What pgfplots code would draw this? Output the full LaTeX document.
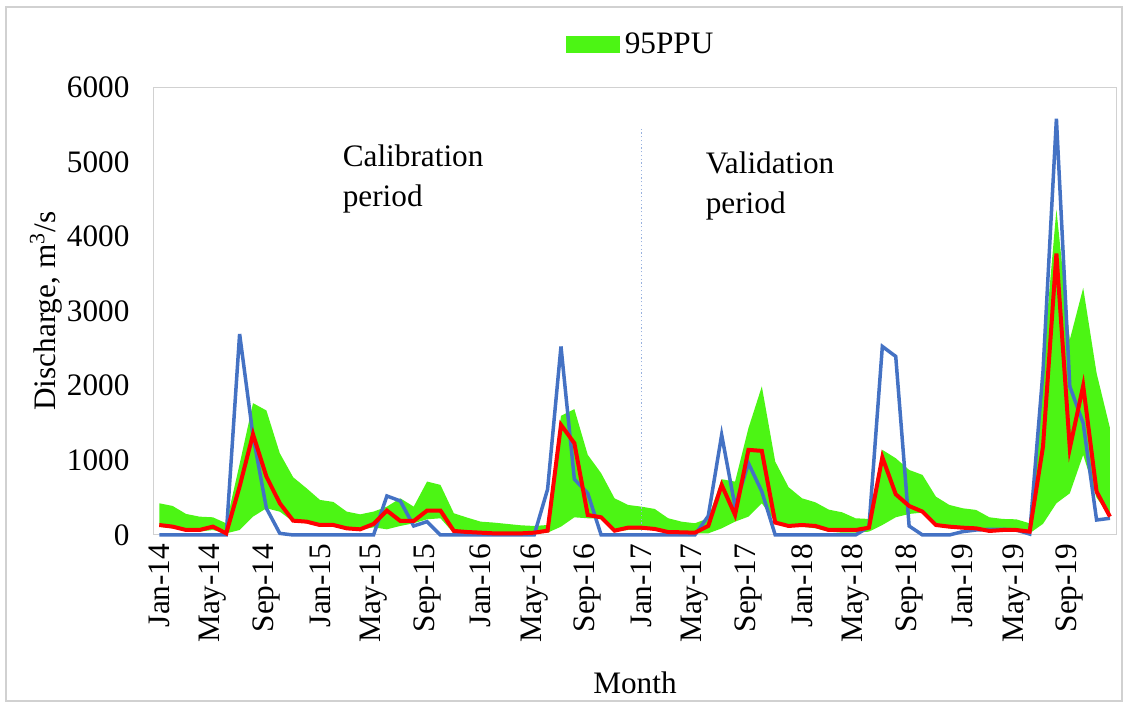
\documentclass[border=0pt]{standalone}
\usepackage{pgfplots}
\pgfplotsset{compat=1.18}
\usepackage{pgfplotstable}
\usepgfplotslibrary{fillbetween}
\usepackage{fontspec}
\setmainfont{Liberation Serif}

\definecolor{ppu}{HTML}{4CF514}
\definecolor{obs}{HTML}{4472C4}
\definecolor{sim}{HTML}{FF0000}

% month index (0 = Jan-14), observed, simulated, 95PPU upper, 95PPU lower
\pgfplotstableread{
m obs sim up low
0 0 134 425 112
1 0 112 389 89
2 0 67 282 67
3 0 67 246 45
4 0 112 237 67
5 0 22 157 22
6 2694 650 950 67
7 1333 1350 1767 246
8 358 783 1669 358
9 22 425 1096 313
10 0 192 774 179
11 0 179 626 157
12 0 134 470 112
13 0 134 443 112
14 0 89 313 76
15 0 76 277 67
16 0 148 313 103
17 523 327 380 76
18 456 188 492 121
19 121 188 380 157
20 179 327 716 210
21 0 327 671 224
22 0 54 291 22
23 0 40 233 20
24 0 31 179 10
25 0 22 166 10
26 0 22 148 10
27 0 22 130 10
28 0 31 121 15
29 613 58 134 31
30 2527 1476 1597 112
31 747 1230 1687 237
32 559 268 1074 224
33 0 237 828 224
34 0 58 492 45
35 0 98 403 67
36 0 98 380 67
37 0 81 349 67
38 0 40 225 22
39 0 36 179 22
40 0 31 157 22
41 255 121 224 22
42 1342 671 747 89
43 380 268 716 179
44 962 1141 1432 246
45 582 1127 1991 425
46 0 166 984 179
47 0 121 640 112
48 0 134 492 112
49 0 121 438 89
50 0 67 340 45
51 0 67 304 31
52 0 67 224 31
53 110 98 215 45
54 2527 1042 1141 134
55 2393 546 1029 237
56 120 389 872 282
57 0 313 805 300
58 0 134 514 121
59 0 112 403 89
60 45 98 358 89
61 67 89 336 76
62 76 54 237 54
63 76 67 215 60
64 67 67 210 60
65 13 45 157 22
66 2200 1186 2300 150
67 5579 3772 4362 425
68 1991 1163 2617 559
69 1499 2000 3311 1074
70 201 582 2170 500
71 224 246 1432 250
}\flow

\begin{document}
\begin{tikzpicture}
\begin{axis}[
  name=main,
  scale only axis,
  width=385.1pt, height=179.1pt,
  xmin=-0.45, xmax=71.45,
  ymin=0, ymax=6000,
  clip=false,
  xtick={0,4,...,68},
  xticklabels={Jan-14,May-14,Sep-14,Jan-15,May-15,Sep-15,Jan-16,May-16,Sep-16,Jan-17,May-17,Sep-17,Jan-18,May-18,Sep-18,Jan-19,May-19,Sep-19},
  xticklabel style={rotate=90, anchor=east},
  ytick={0,1000,...,6000},
  yticklabel style={xshift=-6pt},
  major tick length=0pt,
  axis line style={draw=black!18},
  tick label style={font=\fontsize{12.5}{15}\selectfont},
  /pgf/number format/assume math mode=true,
  /pgf/number format/1000 sep={},
  xlabel={Month},
  ylabel={Discharge, m\textsuperscript{3}/s},
  x label style={at={(axis description cs:0.5004,-0.3306)}, anchor=center, font=\fontsize{12.5}{15}\selectfont},
  y label style={at={(axis description cs:-0.1115,0.5)}, anchor=center, font=\fontsize{12.5}{15}\selectfont},
  legend style={at={(axis description cs:0.5080,1.0945)}, anchor=center, draw=none, fill=none,
    font=\fontsize{12.5}{15}\selectfont},
]
\addlegendimage{legend image code/.code={\fill[ppu] (0pt,-3.2pt) rectangle (21pt,3.2pt);}}
\addlegendentry{95PPU}

\addplot[name path=up, draw=none, forget plot] table[x=m, y=up]{\flow};
\addplot[name path=low, draw=none, forget plot] table[x=m, y=low]{\flow};
\addplot[fill=ppu, draw=none, forget plot] fill between[of=up and low];

\addplot[obs!55, densely dotted, line width=0.5pt, forget plot] coordinates {(36,0) (36,5450)};

\addplot[obs, line width=1.4pt, forget plot] table[x=m, y=obs]{\flow};
\addplot[sim, line width=1.6pt, forget plot] table[x=m, y=sim]{\flow};

\node[anchor=north west, align=left, inner sep=0pt, font=\fontsize{12.5}{16}\selectfont]
  at (axis cs:13.67,5234) {Calibration\\period};
\node[anchor=north west, align=left, inner sep=0pt, font=\fontsize{12.5}{16}\selectfont]
  at (axis cs:40.78,5140) {Validation\\period};
\end{axis}
\draw[black!18, line width=0.5pt] ([shift={(-58.9pt,-66.4pt)}]main.south west) rectangle ([shift={(2.4pt,32.1pt)}]main.north east);
\path ([shift={(-61.3pt,-69.2pt)}]main.south west) rectangle ([shift={(5.6pt,34.9pt)}]main.north east);
\end{tikzpicture}
\end{document}
